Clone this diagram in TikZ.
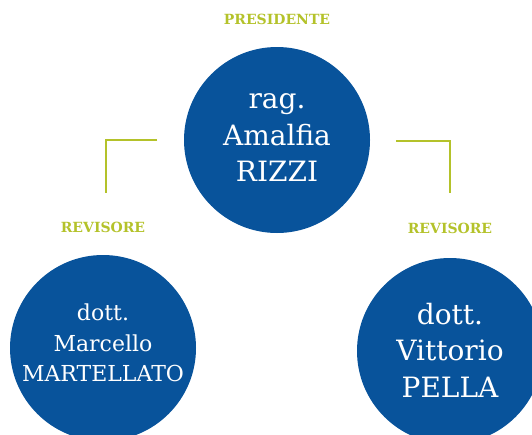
\documentclass[tikz,border=0pt]{standalone}
\usepackage{fontspec}
\setmainfont{DejaVu Serif}
\definecolor{cblue}{HTML}{08539B}
\definecolor{olive}{HTML}{B4C22A}
\tikzset{
  person/.style={circle, fill=cblue, minimum size=186pt, inner sep=0pt, text=white, align=center},
  bigname/.style={person, font=\fontsize{28}{36.5}\selectfont},
  smallname/.style={person, font=\fontsize{22}{30.5}\selectfont},
  role/.style={text=olive, font=\bfseries\fontsize{14}{16}\selectfont, inner sep=0pt},
  link/.style={draw=olive, line width=2pt}
}
\begin{document}
\begin{tikzpicture}[x=1pt,y=-1pt]
\useasboundingbox (0,0) rectangle (532,434);
\begin{scope}
\clip (0,0) rectangle (532,434);
\node[bigname] (pres) at (277,140) {};
\node[smallname] (rev1) at (103,348) {};
\node[bigname] (rev2) at (450,351) {};
\end{scope}
\node[bigname, fill=none, anchor=center] (tpres) at (277,138) {rag.\\Amalfia\\RIZZI};
\node[smallname, fill=none, anchor=center] (trev1) at (103,343) {dott.\\Marcello\\MARTELLATO};
\node[bigname, fill=none, anchor=center] (trev2) at (450,350) {dott.\\Vittorio\\PELLA};
\node[role] (lpres) at (277,19) {PRESIDENTE};
\node[role] (lrev1) at (103,227) {REVISORE};
\node[role] (lrev2) at (450,228) {REVISORE};
\coordinate (a1) at (157,140);
\coordinate (a2) at (106,140);
\coordinate (a3) at (106,193);
\coordinate (b1) at (396,141);
\coordinate (b2) at (450,141);
\coordinate (b3) at (450,193);
\draw[link] (a1) -- (a2) -- (a3);
\draw[link] (b1) -- (b2) -- (b3);
\end{tikzpicture}
\end{document}
